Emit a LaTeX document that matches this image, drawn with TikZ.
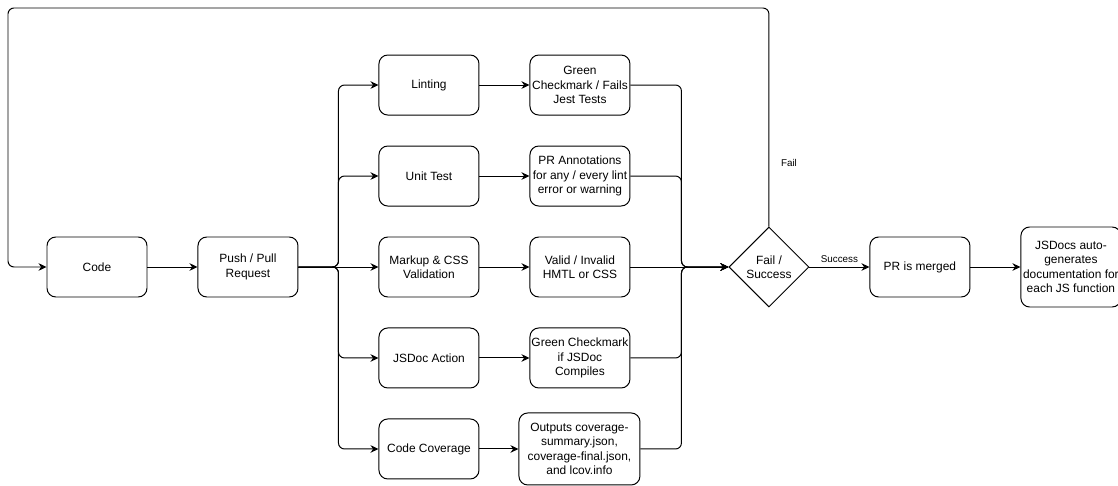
\documentclass[tikz,border=0pt]{standalone}
\usepackage{fontspec}
\setmainfont{Liberation Sans}
\usetikzlibrary{arrows.meta,positioning,calc,shapes.geometric}

\begin{document}
\begin{tikzpicture}[
                font=\fontsize{8.5}{10.3}\selectfont,
                box/.style={draw, rounded corners=0.22cm, align=center, minimum width=2.5cm, minimum height=1.5cm, inner sep=1pt, line width=0.7pt},
                decision/.style={draw, diamond, aspect=1, align=center, minimum width=2cm, minimum height=2cm, inner sep=0pt, line width=0.7pt},
                flow/.style={-{Stealth[length=2mm, width=1.9mm]}, line width=0.7pt, rounded corners=0.15cm},
                lbl/.style={font=\fontsize{7}{8}\selectfont, inner sep=1pt}
            ]
            \useasboundingbox (-2.425,-5.45) rectangle (25.525,6.675);
            \node[box] (code) at (0,0) {Code};
            \node[box, right=1.25cm of code] (push) {Push / Pull\\Request};
            % checks run on the pull request
            \node[box, right=2cm of push] (markup) {Markup \& CSS\\Validation};
            \node[box, above=0.75cm of markup] (unit) {Unit Test};
            \node[box, above=0.75cm of unit] (lint) {Linting};
            \node[box, below=0.75cm of markup] (jsdoc) {JSDoc Action};
            \node[box, below=0.75cm of jsdoc] (cover) {Code Coverage};
            % what each check gives back
            \node[box, right=1.25cm of lint] (lintres) {Green\\Checkmark / Fails\\Jest Tests};
            \node[box, right=1.25cm of unit] (unitres) {PR Annotations\\for any / every lint\\error or warning};
            \node[box, right=1.25cm of markup] (markupres) {Valid / Invalid\\HMTL or CSS};
            \node[box, right=1.25cm of jsdoc] (jsdocres) {Green Checkmark\\if JSDoc\\Compiles};
            \node[box, right=0.975cm of cover, minimum width=3.025cm, minimum height=1.8cm] (coverres) {Outputs coverage-\\summary.json,\\coverage-final.json,\\and lcov.info};
            \node[decision, right=2.45cm of markupres] (dec) {Fail /\\Success};
            \node[box, right=1.5cm of dec] (merged) {PR is merged};
            \node[box, right=1.25cm of merged, minimum height=2cm, inner sep=0pt] (docs) {JSDocs auto-\\generates\\documentation for\\each JS function};
            \node[lbl] (fail) at ($(dec.north)+(0.5,1.6)$) {Fail};
            \coordinate[right=1cm of push] (split);
            \coordinate (join) at ($(markupres.east)+(1.275,0)$);
            \coordinate (loop) at (-2.225,6.475);
            \draw[flow] (code) -- (push);
            \foreach \n in {lint,unit,jsdoc,cover}
                \draw[flow] (push.east) -- (split) |- (\n.west);
            \draw[flow] (push) -- (markup);
            \foreach \a/\b in {lint/lintres,unit/unitres,markup/markupres,jsdoc/jsdocres,cover/coverres}
                \draw[flow] (\a) -- (\b);
            \foreach \n in {lintres,unitres,jsdocres,coverres}
                \draw[flow] (\n.east) -| (join) -- (dec.west);
            \draw[flow] (markupres) -- (dec);
            \draw[flow] (dec) -- node[lbl, above=2pt] (succ) {Success} (merged);
            \draw[flow] (merged) -- (docs);
            \draw[flow] (dec.north) |- (loop) |- (code.west);
        \end{tikzpicture}
\end{document}
